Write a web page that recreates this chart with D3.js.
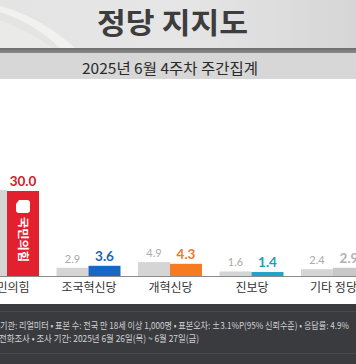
<!DOCTYPE html>
<html><head><meta charset="utf-8">
<script src="https://cdn.jsdelivr.net/npm/d3@7"></script>
<style>
html,body{margin:0;padding:0;background:#fff;overflow:hidden}
svg{display:block;font-family:"Noto Sans CJK KR","Noto Sans",sans-serif}
</style></head>
<body><svg id="c" width="356" height="364"></svg>
<script>
const title = "정당 지지도";
const subtitle = "2025년 6월 4주차 주간집계";
const categories = ["국민의힘","조국혁신당","개혁신당","진보당","기타 정당"];
const prevValues = [30.4, 2.9, 4.9, 1.6, 2.4];
const currValues = [30.0, 3.6, 4.3, 1.4, 2.9];
const barColors = ["#e3202e","#1767c7","#f67b21","#1ea4c8","#c8c8c8"];
const labelColors = ["#d3202c","#1b63b6","#ee7a28","#1a9ec0","#b2b2b2"];
const footLines = [
  "기관: 리얼미터 • 표본 수: 전국 만 18세 이상 1,000명 • 표본오차: ±3.1%P(95% 신뢰수준) • 응답률: 4.9%",
  "전화조사 • 조사 기간: 2025년 6월 26일(목) ~ 6월 27일(금)"
];

const W = 356, H = 364;
const svg = d3.select("#c");
const defs = svg.append("defs");

const hg = defs.append("linearGradient").attr("id","hg").attr("x1","0").attr("x2","1").attr("y1","0").attr("y2","0");
hg.append("stop").attr("offset","0").attr("stop-color","#e4e4e4");
hg.append("stop").attr("offset","0.5").attr("stop-color","#e6e6e6");
hg.append("stop").attr("offset","1").attr("stop-color","#d6d6d6");
const sg = defs.append("linearGradient").attr("id","sg").attr("x1","0").attr("x2","0").attr("y1","0").attr("y2","1");
sg.append("stop").attr("offset","0").attr("stop-color","#6c6c6c");
sg.append("stop").attr("offset","1").attr("stop-color","#8c8c8c");

svg.append("rect").attr("x",0).attr("y",0).attr("width",W).attr("height",48).attr("fill","url(#hg)");
svg.append("path").attr("d","M0,6 C30,14 55,30 75,48 L60,48 C45,34 25,20 0,12 Z").attr("fill","#f4f4f2").attr("opacity",0.8);
svg.append("path").attr("d","M0,20 C20,28 40,38 52,48 L0,48 Z").attr("fill","#ececea").attr("opacity",0.7);
svg.append("rect").attr("x",0).attr("y",48).attr("width",W).attr("height",5).attr("fill","url(#sg)");
svg.append("rect").attr("x",0).attr("y",53).attr("width",W).attr("height",26).attr("fill","#d7d7d7");

svg.append("text").attr("x",172.5).attr("y",34).attr("text-anchor","middle")
  .attr("font-size",29).attr("font-weight",700).attr("fill","#3d3d3d")
  .attr("textLength",151).attr("lengthAdjust","spacingAndGlyphs").text(title);
svg.append("text").attr("x",170).attr("y",74).attr("text-anchor","middle")
  .attr("font-size",15).attr("font-weight",400).attr("fill","#2a2a2a")
  .attr("textLength",176).attr("lengthAdjust","spacingAndGlyphs").text(subtitle);

const baseY = 276;
const x = d3.scalePoint().domain(categories).range([7, 333]);
const y = d3.scaleLinear().domain([0, 30]).range([baseY, 191]);
const bw = 32;

const g = svg.append("g");
categories.forEach((c, i) => {
  const cx = x(c);
  g.append("rect").attr("x", cx - bw).attr("y", y(prevValues[i])).attr("width", bw)
    .attr("height", baseY - y(prevValues[i])).attr("fill", "#d5d5d5");
  g.append("rect").attr("x", cx).attr("y", y(currValues[i])).attr("width", bw)
    .attr("height", baseY - y(currValues[i])).attr("fill", barColors[i]);
  if (cx - bw/2 > 12) {
    g.append("text").attr("x", cx - bw/2).attr("y", y(prevValues[i]) - 5).attr("text-anchor","middle")
      .attr("font-size", 11).attr("fill", "#ababab").attr("font-family","Lato, sans-serif").text(prevValues[i].toFixed(1));
  }
  g.append("text").attr("x", cx + bw/2).attr("y", y(currValues[i]) - 5).attr("text-anchor","middle")
    .attr("font-size", 13.5).attr("font-weight", 700).attr("fill", labelColors[i])
    .attr("font-family","Lato, sans-serif").text(currValues[i].toFixed(1));
});

const c0 = x(categories[0]) + bw/2;
const top0 = y(currValues[0]);
g.append("path")
  .attr("d", `M${c0-4},${top0+9} L${c0+4},${top0+9} Q${c0+7},${top0+9} ${c0+7},${top0+12} L${c0+7},${top0+19} Q${c0+7},${top0+22} ${c0+4},${top0+22} L${c0-4},${top0+22} Q${c0-7},${top0+22} ${c0-7},${top0+19} L${c0-7},${top0+13} Z`)
  .attr("fill","#fff");
g.append("text").attr("transform", `translate(${c0-4},${top0+26}) rotate(90)`)
  .attr("font-size", 11.5).attr("font-weight", 700).attr("fill", "#fff")
  .attr("textLength",45).attr("lengthAdjust","spacingAndGlyphs").text(categories[0]);

svg.append("line").attr("x1",0).attr("x2",W).attr("y1",baseY+0.5).attr("y2",baseY+0.5).attr("stroke","#8a8a8a");
const ax = svg.append("g").attr("transform",`translate(0,${baseY})`)
  .call(d3.axisBottom(x).tickSize(0).tickPadding(7));
ax.select(".domain").remove();
ax.selectAll("text").attr("font-size",12).attr("fill","#333").attr("font-family","Noto Sans CJK KR, sans-serif");

svg.append("rect").attr("x",0).attr("y",304).attr("width",W).attr("height",60).attr("fill","#3a3b3f");
svg.append("rect").attr("x",0).attr("y",311).attr("width",W).attr("height",1).attr("fill","#48494e");
svg.append("rect").attr("x",0).attr("y",353).attr("width",W).attr("height",1).attr("fill","#48494e");
svg.append("text").attr("x",0).attr("y",329).attr("font-size",9.5).attr("fill","#d2d2d2")
  .attr("textLength",349).attr("lengthAdjust","spacingAndGlyphs").text(footLines[0]);
svg.append("text").attr("x",-1).attr("y",342).attr("font-size",9.5).attr("fill","#d2d2d2")
  .attr("textLength",200).attr("lengthAdjust","spacingAndGlyphs").text(footLines[1]);
</script></body></html>
